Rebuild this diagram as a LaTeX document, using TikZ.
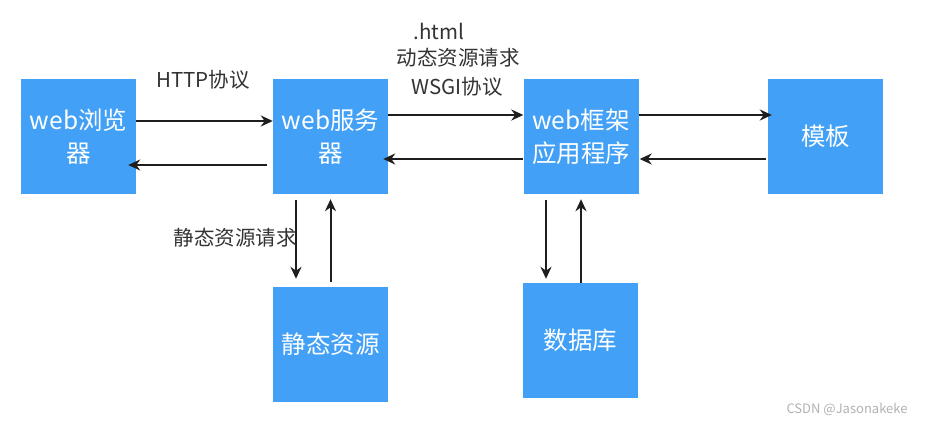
\documentclass[tikz,border=0pt]{standalone}
\usepackage{fontspec}
\setmainfont{Noto Sans CJK SC}
\usetikzlibrary{arrows.meta}
\definecolor{boxblue}{RGB}{66,160,246}
\definecolor{arrowdark}{RGB}{30,30,30}
\begin{document}
\begin{tikzpicture}[x=1pt,y=-1pt,
    box/.style={fill=boxblue, minimum width=115pt, minimum height=115pt, inner sep=0pt,
      text=white, align=center, font=\fontsize{24.5}{33}\selectfont},
    arr/.style={-{Stealth[length=12pt,width=11pt]}, line width=2pt, color=arrowdark},
    lbl/.style={font=\fontsize{20.5}{24}\selectfont, color=black!80}]
      \useasboundingbox[fill=white] (0,0) rectangle (932,426);

      \node[box] (browser) at (78.5,136.5) {web浏览\\器};
      \node[box] (server) at (330.5,136.5) {web服务\\器};
      \node[box] (frame) at (581,136.5) {web框架\\应用程序};
      \node[box] (tmpl) at (825.5,136.5) {模板};
      \node[box] (static) at (330.5,344.5) {静态资源};
      \node[box] (db) at (580.5,340.5) {数据库};

      \draw[arr] ([yshift=15.5pt]browser.east) -- ([yshift=15.5pt]server.west);
      \draw[arr] ([xshift=-6pt,yshift=-28.5pt]server.west) -- ([xshift=-8pt,yshift=-28.5pt]browser.east);
      \draw[arr] ([yshift=21.5pt]server.east) -- ([yshift=21.5pt]frame.west);
      \draw[arr] ([yshift=-22.5pt]frame.west) -- ([xshift=-5pt,yshift=-22.5pt]server.east);
      \draw[arr] ([yshift=21.5pt]frame.east) -- ([xshift=4pt,yshift=21.5pt]tmpl.west);
      \draw[arr] ([xshift=-2pt,yshift=-22.5pt]tmpl.west) -- ([xshift=1pt,yshift=-22.5pt]frame.east);

      \draw[arr, shorten <=6pt, shorten >=8pt] ([xshift=-34.5pt]server.south) -- ([xshift=-34.5pt]static.north);
      \draw[arr, shorten <=5pt, shorten >=5pt] (static.north) -- (server.south);
      \draw[arr, shorten <=6pt, shorten >=4pt] ([xshift=-35pt]frame.south) -- ([xshift=-34.5pt]db.north);
      \draw[arr, shorten >=5pt] ([xshift=0.5pt]db.north) -- (frame.south);

      \node[lbl] (http) at (203,80) {HTTP协议};
      \node[lbl] (html) at (439,31) {.html};
      \node[lbl] (dyn) at (458,58) {动态资源请求};
      \node[lbl] (wsgi) at (457,87) {WSGI协议};
      \node[lbl] (sreq) at (235,238) {静态资源请求};
      \node[font=\fontsize{13}{16}\selectfont, color=black!30] (mark) at (847,409) {CSDN @Jasonakeke};
    \end{tikzpicture}
\end{document}
